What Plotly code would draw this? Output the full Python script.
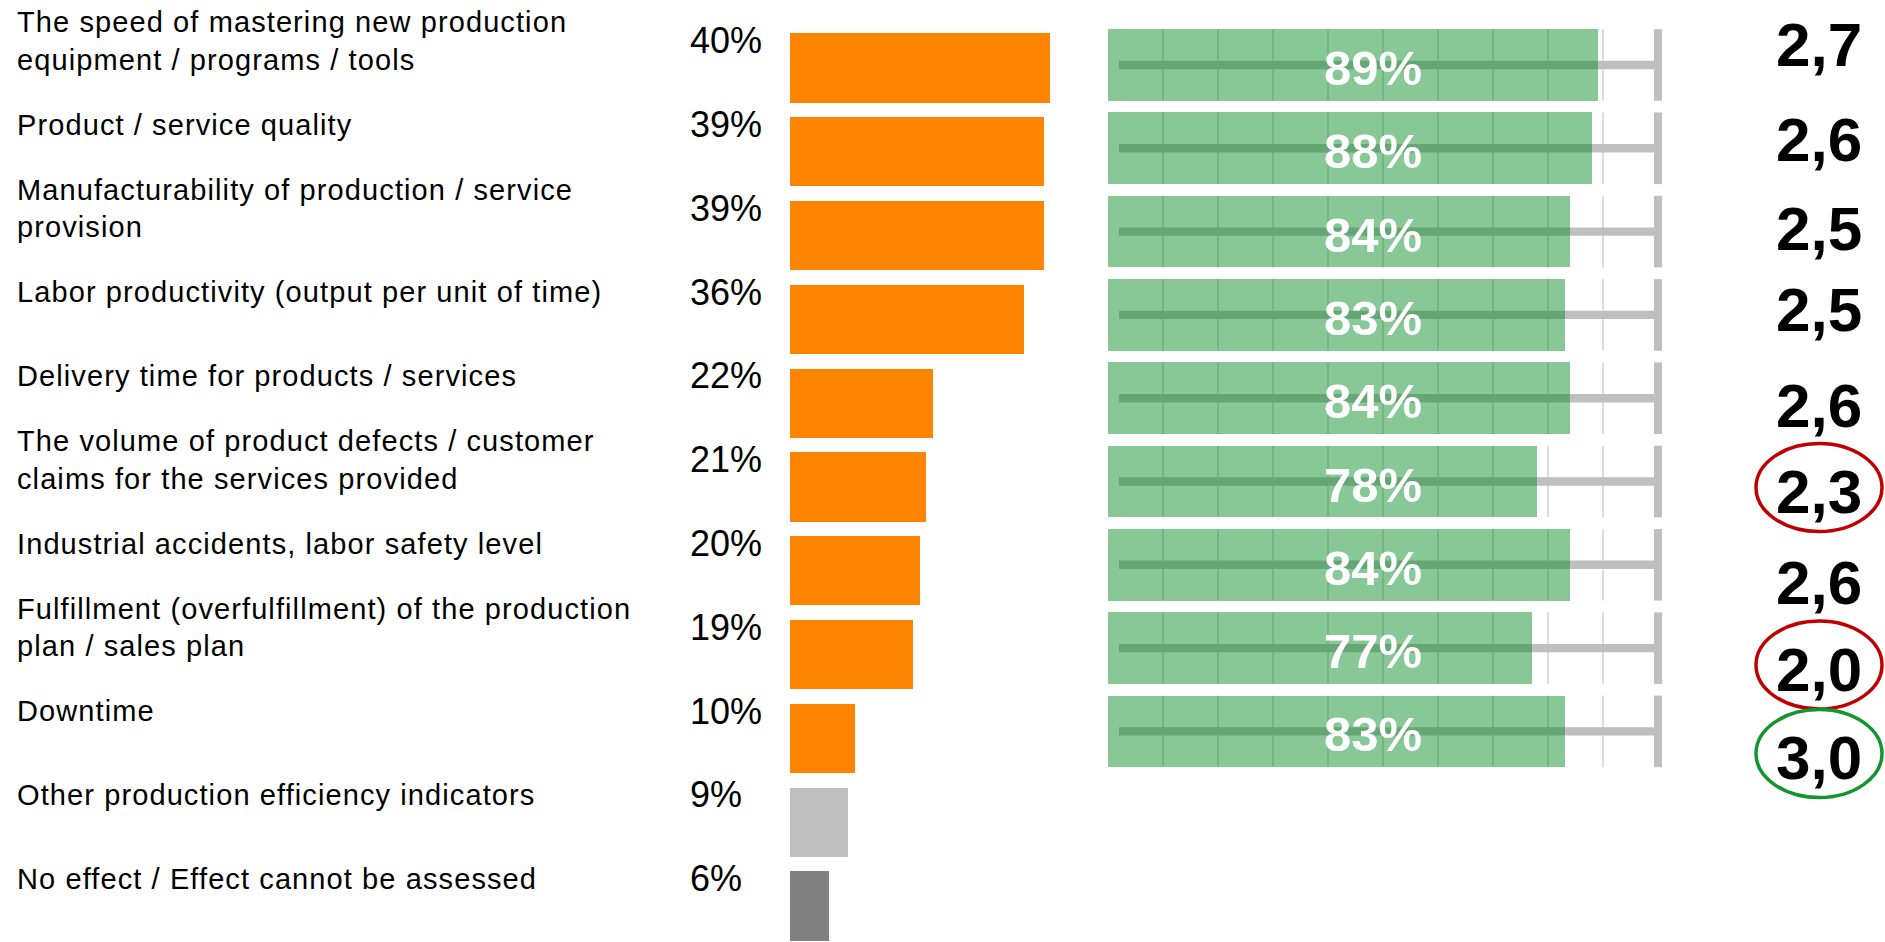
import plotly.graph_objects as go

W, H = 1885, 942

# ---------------- data ----------------
indicator_lines = [
    ["The speed of mastering new production", "equipment / programs / tools"],
    ["Product / service quality"],
    ["Manufacturability of production / service", "provision"],
    ["Labor productivity (output per unit of time)"],
    ["Delivery time for products / services"],
    ["The volume of product defects / customer", "claims for the services provided"],
    ["Industrial accidents, labor safety level"],
    ["Fulfillment (overfulfillment) of the production", "plan / sales plan"],
    ["Downtime"],
    ["Other production efficiency indicators"],
    ["No effect / Effect cannot be assessed"],
]
share_pct = [40, 39, 39, 36, 22, 21, 20, 19, 10, 9, 6]
share_colors = ["#FF8400"] * 9 + ["#BFBFBF", "#808080"]

achieved_pct = [89, 88, 84, 83, 84, 78, 84, 77, 83]
target_pct = 100
avg_score = [2.7, 2.6, 2.5, 2.5, 2.6, 2.3, 2.6, 2.0, 3.0]
score_flag = ["", "", "", "", "", "low", "", "low", "high"]

# ---------------- pixel geometry of the panels ----------------
# left panel: x = 0 at px 789.5, 6.52 px per percent; rows 83.8 px apart
L_X0, L_XS = 789.5, 6.52
L_Y0, L_YS = 68.0, 83.8
# right panel: x = 0 at px 1108, 5.5 px per percent; rows 83.3 px apart
R_X0, R_XS = 1108.0, 5.5
R_Y0, R_YS = 65.0, 83.3


def xrange_for(x0, xs):
    return [(0 - x0) / xs, (W - x0) / xs]


def yrange_for(y0, ys):
    return [(H - y0) / ys, (0 - y0) / ys]


FONT = "Liberation Sans, Arial, sans-serif"

rows_l = list(range(len(share_pct)))
rows_r = list(range(len(achieved_pct)))
half_r = 0.43

fig = go.Figure()

# left: share of respondents
fig.add_trace(go.Bar(
    x=share_pct, y=rows_l, orientation="h", width=0.828,
    marker=dict(color=share_colors, line=dict(width=0)),
    xaxis="x", yaxis="y", hoverinfo="skip", showlegend=False,
))

# right: per-row grid lines, target line and end cap
gx, gy = [], []
for r in rows_r:
    for g in range(10, 100, 10):
        gx += [g, g, None]
        gy += [r - half_r, r + half_r, None]
fig.add_trace(go.Scatter(
    x=gx, y=gy, mode="lines", line=dict(color="#DCDCDC", width=2),
    xaxis="x2", yaxis="y2", hoverinfo="skip", showlegend=False,
))
tx, ty, cx, cy = [], [], [], []
for r in rows_r:
    tx += [2, target_pct, None]
    ty += [r, r, None]
    cx += [target_pct, target_pct, None]
    cy += [r - half_r, r + half_r, None]
fig.add_trace(go.Scatter(
    x=tx, y=ty, mode="lines", line=dict(color="#BFBFBF", width=8.4),
    xaxis="x2", yaxis="y2", hoverinfo="skip", showlegend=False,
))
fig.add_trace(go.Scatter(
    x=cx, y=cy, mode="lines", line=dict(color="#BFBFBF", width=8),
    xaxis="x2", yaxis="y2", hoverinfo="skip", showlegend=False,
))

# right: achieved share (translucent, drawn over the target line)
fig.add_trace(go.Bar(
    x=achieved_pct, y=rows_r, orientation="h", width=2 * half_r,
    marker=dict(color="rgba(0,138,32,0.47)", line=dict(width=0)),
    xaxis="x3", yaxis="y3", hoverinfo="skip", showlegend=False,
))

annotations = []
shapes = []

# indicator names
LINE_GAP = 37.6
for r, lines in enumerate(indicator_lines):
    center = -27.0
    n = len(lines)
    for k, txt in enumerate(lines):
        off = center + (k - (n - 1) / 2) * LINE_GAP
        annotations.append(dict(
            text='<span style="letter-spacing:1.1px">' + txt + "</span>",
            xref="paper", x=15 / W, xanchor="left",
            yref="y", y=r + off / L_YS, yanchor="middle",
            showarrow=False, font=dict(family=FONT, size=29, color="#000000"),
        ))

# share labels
for r, v in enumerate(share_pct):
    annotations.append(dict(
        text=f"{v}%", xref="paper", x=688 / W, xanchor="left",
        yref="y", y=r - 27.3 / L_YS, yanchor="middle",
        showarrow=False, font=dict(family=FONT, size=36, color="#000000"),
    ))

# achieved labels inside the bars
for r, v in enumerate(achieved_pct):
    annotations.append(dict(
        text=f"{v}%", xref="paper", x=1373 / W, xanchor="center",
        yref="y3", y=r + 3 / R_YS, yanchor="middle",
        showarrow=False, font=dict(family=FONT, size=49, color="#FFFFFF", weight=700),
    ))

# average scores with highlight rings
score_nudge_px = [-21, -8.8, -3.2, -5.9, 6.8, 10, 17.2, 20.9, 26.1]
ring_color = {"low": "#C00000", "high": "#12952F"}
SX = 1819.0
for r, (s, f) in enumerate(zip(avg_score, score_flag)):
    yc = r + score_nudge_px[r] / R_YS
    annotations.append(dict(
        text=f"{s:.1f}".replace(".", ","), xref="paper", x=SX / W, xanchor="center",
        yref="y3", y=yc, yanchor="middle",
        showarrow=False, font=dict(family=FONT, size=62, color="#000000", weight=700),
    ))
    if f:
        ec = yc - 4 / R_YS
        shapes.append(dict(
            type="circle", xref="paper", yref="y3",
            x0=(SX - 63) / W, x1=(SX + 63) / W,
            y0=ec - 44 / R_YS, y1=ec + 44 / R_YS,
            line=dict(color=ring_color[f], width=3.5), fillcolor="rgba(0,0,0,0)",
        ))

hidden = dict(visible=False, showgrid=False, zeroline=False, fixedrange=True)
fig.update_layout(
    width=W, height=H,
    margin=dict(l=0, r=0, t=0, b=0),
    paper_bgcolor="#FFFFFF", plot_bgcolor="rgba(0,0,0,0)",
    bargap=0, barmode="overlay",
    xaxis=dict(hidden, domain=[0, 1], range=xrange_for(L_X0, L_XS)),
    yaxis=dict(hidden, domain=[0, 1], range=yrange_for(L_Y0, L_YS)),
    xaxis2=dict(hidden, overlaying="x", range=xrange_for(R_X0, R_XS)),
    yaxis2=dict(hidden, overlaying="y", range=yrange_for(R_Y0, R_YS)),
    xaxis3=dict(hidden, overlaying="x", range=xrange_for(R_X0, R_XS)),
    yaxis3=dict(hidden, overlaying="y", range=yrange_for(R_Y0, R_YS)),
    annotations=annotations,
    shapes=shapes,
)

fig.write_html("out.html", config={"displayModeBar": False})
